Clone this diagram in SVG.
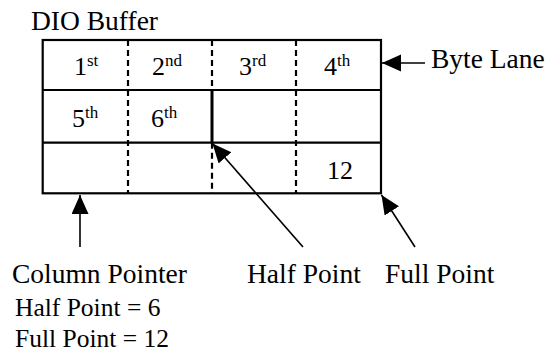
<svg xmlns="http://www.w3.org/2000/svg" width="547" height="358" viewBox="0 0 547 358">
<style>
text{font-family:"Liberation Serif","Times New Roman",serif;fill:#000}
.lbl{font-size:27.5px}
.note{font-size:25.5px}
.cell{font-size:26px}
.sup{font-size:17px}
.solid{stroke:#000;stroke-width:2.2;fill:none}
.dash{stroke:#000;stroke-width:2.2;stroke-dasharray:6,4;fill:none}
.conn{stroke:#000;stroke-width:1.6;fill:none;marker-end:url(#ah)}
</style>
<defs>
<marker id="ah" markerUnits="userSpaceOnUse" markerWidth="20" markerHeight="18" refX="19" refY="8.5" orient="auto">
<path d="M0,0 L19,8.5 L0,17 Z" fill="#000"/>
</marker>
</defs>
<g id="title"><text class="lbl" x="31" y="30">DIO Buffer</text></g>
<g id="buffer">
<rect class="solid" x="42.7" y="40" width="338.3" height="153.3"/>
<line class="solid" x1="42.7" y1="90" x2="381" y2="90"/>
<line class="solid" x1="42.7" y1="142.7" x2="381" y2="142.7"/>
<line class="dash" x1="128" y1="40" x2="128" y2="193.3"/>
<line class="dash" x1="212" y1="40" x2="212" y2="90"/>
<line class="dash" x1="212" y1="142.7" x2="212" y2="193.3"/>
<line class="dash" x1="296" y1="40" x2="296" y2="193.3"/>
<line stroke="#000" stroke-width="3" x1="212" y1="90" x2="212" y2="142.7"/>
</g>
<g id="cells">
<text class="cell" x="74" y="75">1<tspan class="sup" dy="-9">st</tspan></text>
<text class="cell" x="152" y="75">2<tspan class="sup" dy="-9">nd</tspan></text>
<text class="cell" x="239" y="75">3<tspan class="sup" dy="-9">rd</tspan></text>
<text class="cell" x="324" y="75">4<tspan class="sup" dy="-9">th</tspan></text>
<text class="cell" x="72" y="127">5<tspan class="sup" dy="-9">th</tspan></text>
<text class="cell" x="151" y="127">6<tspan class="sup" dy="-9">th</tspan></text>
<text class="cell" x="327" y="179">12</text>
</g>
<g id="connectors">
<line class="conn" x1="425" y1="63" x2="382" y2="63"/>
<line class="conn" x1="80" y1="247" x2="80" y2="195"/>
<line class="conn" x1="303" y1="247" x2="212.5" y2="143.5"/>
<line class="conn" x1="415" y1="247" x2="381.5" y2="195"/>
</g>
<g id="byte-lane"><text class="lbl" x="431" y="68">Byte Lane</text></g>
<g id="column-pointer"><text class="lbl" x="12" y="283">Column Pointer</text></g>
<g id="half-point"><text class="lbl" x="247" y="283">Half Point</text></g>
<g id="full-point"><text class="lbl" x="385" y="283">Full Point</text></g>
<g id="notes">
<text class="note" x="15" y="316">Half Point = 6</text>
<text class="note" x="15" y="347">Full Point = 12</text>
</g>
</svg>
